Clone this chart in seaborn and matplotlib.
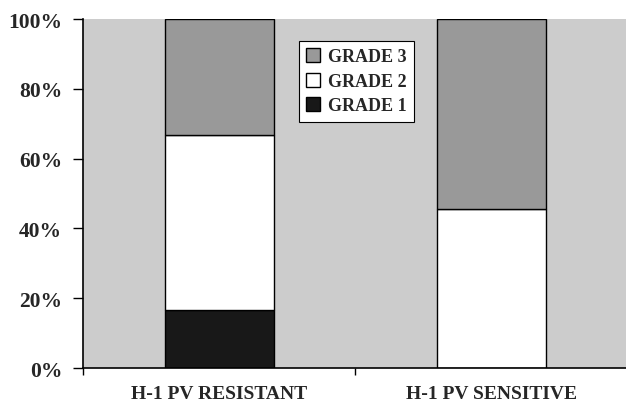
import numpy as np
import pandas as pd
import matplotlib.pyplot as plt
import seaborn as sns

# stacked percentages per group
groups = ["H-1 PV RESISTANT", "H-1 PV SENSITIVE"]
grade1 = [16.7, 0.0]
grade2 = [50.0, 45.5]
grade3 = [33.3, 54.5]
yticks = [0, 20, 40, 60, 80, 100]

sns.set_style("ticks")
plt.rcParams['font.family'] = ['Liberation Serif', 'DejaVu Serif']
plt.rcParams['font.weight'] = 'bold'

df = pd.DataFrame({"group": groups, "g1": grade1, "g2": grade2, "g3": grade3})
df["b2"] = df["g1"]
df["b3"] = df["g1"] + df["g2"]

fig = plt.figure(figsize=(6.26, 4.02), dpi=100)
ax = fig.add_axes([0.1326, 0.082, 0.8704, 0.868])
ax.set_facecolor("#cccccc")

sns.barplot(data=df, x="group", y="g1", color="#181818", edgecolor="black",
            linewidth=1, width=0.4, saturation=1, label="GRADE 1", ax=ax)
sns.barplot(data=df, x="group", y="g2", bottom=df["b2"], color="white",
            edgecolor="black", linewidth=1, width=0.4, saturation=1,
            label="GRADE 2", ax=ax)
sns.barplot(data=df, x="group", y="g3", bottom=df["b3"], color="#999999",
            edgecolor="black", linewidth=1, width=0.4, saturation=1,
            label="GRADE 3", ax=ax)

ax.set_xlim(-0.5, 1.5)
ax.set_ylim(0, 100)
ax.set_yticks(yticks)
ax.set_yticklabels([f"{v}%" for v in yticks], fontsize=15.5, fontweight="bold")
ax.set_xticks([0, 1])
ax.set_xticklabels(groups, fontsize=14, fontweight="bold")
ax.tick_params(axis="x", which="major", length=0, pad=12)
ax.set_xticks([-0.5, 0.5, 1.5], minor=True)
ax.tick_params(axis="x", which="minor", length=5, width=1, color="black", direction="out")
ax.tick_params(axis="y", length=7, width=1, color="black", direction="out", pad=8)
ax.set_xlabel("")
ax.set_ylabel("")

for s in ["top", "right"]:
    ax.spines[s].set_visible(False)
for s in ["left", "bottom"]:
    ax.spines[s].set_color("black")
    ax.spines[s].set_linewidth(1.2)

h, l = ax.get_legend_handles_labels()
leg = ax.legend(h[::-1], l[::-1], loc="upper left", bbox_to_anchor=(0.396, 0.937),
                frameon=True, fancybox=False, edgecolor="black", facecolor="white",
                framealpha=1, handlelength=0.8, handleheight=0.8, handletextpad=0.4,
                labelspacing=0.4, borderpad=0.4, borderaxespad=0,
                prop={"size": 13, "weight": "bold"})
leg.get_frame().set_linewidth(0.8)

fig.savefig("out.png", dpi=100)
